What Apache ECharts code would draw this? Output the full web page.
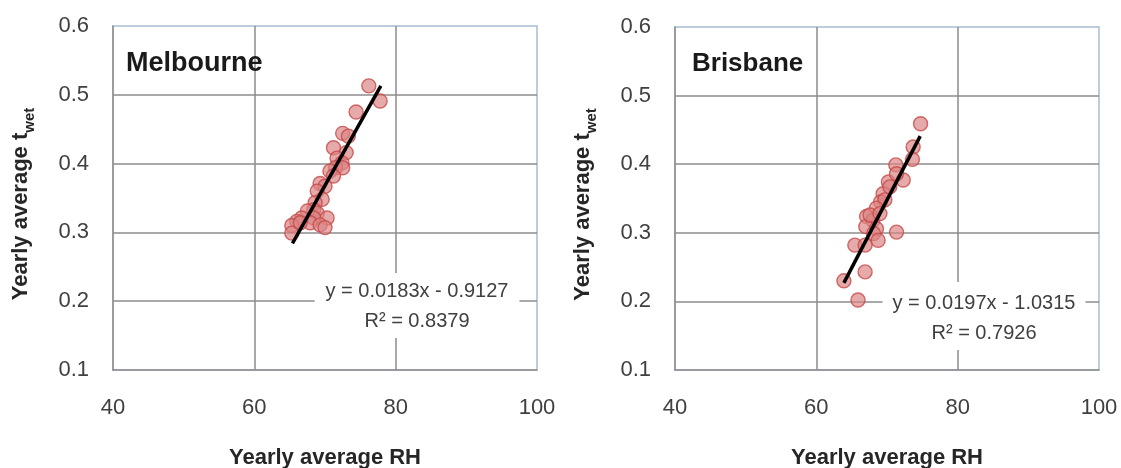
<!DOCTYPE html>
<html>
<head>
<meta charset="utf-8">
<script src="https://cdn.jsdelivr.net/npm/echarts@6/dist/echarts.min.js"></script>
<style>html,body{margin:0;padding:0;background:#fff;}#c{width:1121px;height:468px;}</style>
</head>
<body>
<div id="c"></div>
<script>
// ---- data ----
const melbRH   = [76.2,77.8,74.4,72.5,73.3,71.2,73.0,71.7,72.4,71.5,72.5,70.7,71.2,69.3,70.0,68.9,69.6,68.6,68.4,67.5,68.9,66.7,68.4,70.3,66.0,67.9,69.3,65.3,70.0,65.3,66.5];
const melbTwet = [0.513,0.491,0.475,0.444,0.440,0.423,0.416,0.408,0.401,0.394,0.394,0.389,0.382,0.371,0.367,0.360,0.348,0.343,0.333,0.331,0.328,0.321,0.321,0.321,0.316,0.314,0.311,0.310,0.307,0.299,0.314];
const brisRH   = [74.75,73.7,73.6,71.25,72.3,70.2,71.35,69.45,70.4,69.1,69.7,68.5,67.1,68.0,67.0,68.5,71.35,68.1,68.75,65.45,66.9,66.9,63.9,65.9,67.6,69.0];
const brisTwet = [0.459,0.425,0.407,0.399,0.377,0.374,0.386,0.357,0.367,0.345,0.348,0.336,0.324,0.318,0.309,0.306,0.301,0.299,0.289,0.282,0.282,0.243,0.230,0.202,0.326,0.328];
const melbTrendX = [65.4, 77.9];
const melbTrendY = [0.284, 0.513];
const brisTrendX = [63.9, 74.7];
const brisTrendY = [0.227, 0.441];
const cities = ['Melbourne', 'Brisbane'];
const equations = ['y = 0.0183x - 0.9127\nR\u00b2 = 0.8379', 'y = 0.0197x - 1.0315\nR\u00b2 = 0.7926'];
const xTicks = {min: 40, max: 100, interval: 20};
const yTicks = {min: 0.1, max: 0.6, interval: 0.1};
const xName = 'Yearly average RH';
const yNameMain = 'Yearly average t';
const yNameSub = 'wet';

const FONT = 'Liberation Sans';
const zip = (a, b) => a.map((v, i) => [v, b[i]]);

function xAxis(idx) {
  return {
    type: 'value', gridIndex: idx, min: xTicks.min, max: xTicks.max, interval: xTicks.interval,
    name: xName, nameLocation: 'middle', nameGap: 77,
    nameTextStyle: {fontFamily: FONT, fontSize: 22, fontWeight: 'bold', color: '#262626'},
    axisLine: {show: true, lineStyle: {color: '#8c8c8c', width: 1.5}},
    axisTick: {show: false},
    axisLabel: {fontFamily: FONT, fontSize: 22, color: '#404040', margin: 27},
    splitLine: {show: true, showMinLine: false, showMaxLine: false, lineStyle: {color: '#8c8c8c', width: 1.5}}
  };
}
function yAxis(idx) {
  return {
    type: 'value', gridIndex: idx, min: yTicks.min, max: yTicks.max, interval: yTicks.interval,
    name: '{a|' + yNameMain + '}{s|' + yNameSub + '}', nameLocation: 'middle', nameGap: 76,
    nameTextStyle: {
      padding: [0, 12, 0, 0],
      rich: {
        a: {fontFamily: FONT, fontSize: 22, fontWeight: 'bold', color: '#262626', lineHeight: 32},
        s: {fontFamily: FONT, fontSize: 15, fontWeight: 'bold', color: '#262626', lineHeight: 15, verticalAlign: 'bottom'}
      }
    },
    axisLine: {show: true, lineStyle: {color: '#8c8c8c', width: 1.5}},
    axisTick: {show: false},
    axisLabel: {fontFamily: FONT, fontSize: 22, color: '#404040', margin: 24, formatter: v => v.toFixed(1)},
    splitLine: {show: true, showMinLine: false, showMaxLine: false, lineStyle: {color: '#8c8c8c', width: 1.5}}
  };
}
const pointStyle = {color: 'rgba(220,130,130,0.85)', borderColor: '#c64848', borderWidth: 1.4};

const option = {
  backgroundColor: '#fff',
  animation: false,
  grid: [
    {left: 113, top: 26, width: 424, height: 344, outerBoundsMode: 'none', containLabel: false, show: true, borderColor: '#a9bcd3', borderWidth: 1.5, backgroundColor: 'transparent'},
    {left: 675, top: 27, width: 424, height: 343, outerBoundsMode: 'none', containLabel: false, show: true, borderColor: '#a9bcd3', borderWidth: 1.5, backgroundColor: 'transparent'}
  ],
  xAxis: [xAxis(0), xAxis(1)],
  yAxis: [yAxis(0), yAxis(1)],
  series: [
    {type: 'scatter', xAxisIndex: 0, yAxisIndex: 0, symbolSize: 14, itemStyle: pointStyle, data: zip(melbRH, melbTwet), z: 3},
    {type: 'line', xAxisIndex: 0, yAxisIndex: 0, showSymbol: false, symbol: 'none', lineStyle: {color: '#000', width: 3.5}, data: zip(melbTrendX, melbTrendY), z: 4},
    {type: 'scatter', xAxisIndex: 1, yAxisIndex: 1, symbolSize: 14, itemStyle: pointStyle, data: zip(brisRH, brisTwet), z: 3},
    {type: 'line', xAxisIndex: 1, yAxisIndex: 1, showSymbol: false, symbol: 'none', lineStyle: {color: '#000', width: 3.5}, data: zip(brisTrendX, brisTrendY), z: 4}
  ],
  graphic: [
    {type: 'text', x: 126, y: 64, z: 100, style: {text: cities[0], font: 'bold 27px "' + FONT + '"', fill: '#1a1a1a', align: 'left', verticalAlign: 'middle'}},
    {type: 'text', x: 692, y: 64, z: 100, style: {text: cities[1], font: 'bold 26px "' + FONT + '"', fill: '#1a1a1a', align: 'left', verticalAlign: 'middle'}},
    {type: 'text', x: 417, y: 273, z: 100, style: {text: equations[0], font: '20px "' + FONT + '"', fill: '#404040', align: 'center', verticalAlign: 'top', lineHeight: 30, backgroundColor: '#fff', padding: [3, 11, 2, 11]}},
    {type: 'text', x: 984, y: 282, z: 100, style: {text: equations[1], font: '20px "' + FONT + '"', fill: '#404040', align: 'center', verticalAlign: 'top', lineHeight: 30, backgroundColor: '#fff', padding: [6, 10, 2, 10]}}
  ]
};
const chart = echarts.init(document.getElementById('c'), null, {renderer: 'canvas'});
chart.setOption(option);
</script>
</body>
</html>
